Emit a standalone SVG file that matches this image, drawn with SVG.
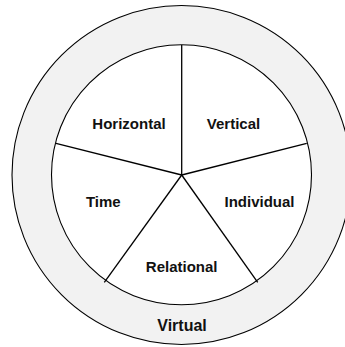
<svg xmlns="http://www.w3.org/2000/svg" width="345" height="347" viewBox="0 0 345 347">
  <style>
    .ring { fill: #f2f2f2; stroke: #000; stroke-width: 1.1; }
    .core { fill: #fff; stroke: #000; stroke-width: 1.1; }
    .spoke { stroke: #000; stroke-width: 1.3; fill: none; }
    .lbl { font-family: "Liberation Sans", Arial, sans-serif; font-weight: bold; font-size: 15px; fill: #111; text-anchor: middle; }
    .outer-lbl { font-size: 16px; }
  </style>
  <g id="virtual">
    <circle class="ring" cx="181.5" cy="175" r="169.5"/>
    <text class="lbl outer-lbl" x="182" y="331">Virtual</text>
  </g>
  <g id="core">
    <circle class="core" cx="181.5" cy="174.8" r="130"/>
  </g>
  <g id="connectors">
    <line class="spoke" x1="181.7" y1="175" x2="181.7" y2="45"/>
    <line class="spoke" x1="181.7" y1="175" x2="56" y2="143.3"/>
    <line class="spoke" x1="181.7" y1="175" x2="306.7" y2="143.3"/>
    <line class="spoke" x1="181.7" y1="175" x2="104.3" y2="282.3"/>
    <line class="spoke" x1="181.7" y1="175" x2="257.7" y2="282.3"/>
  </g>
  <g id="horizontal"><text class="lbl" x="129" y="128.5">Horizontal</text></g>
  <g id="vertical"><text class="lbl" x="233.5" y="128.5">Vertical</text></g>
  <g id="time"><text class="lbl" x="103.3" y="206.5">Time</text></g>
  <g id="individual"><text class="lbl" x="259.5" y="206.5">Individual</text></g>
  <g id="relational"><text class="lbl" x="181.7" y="271.5">Relational</text></g>
</svg>
